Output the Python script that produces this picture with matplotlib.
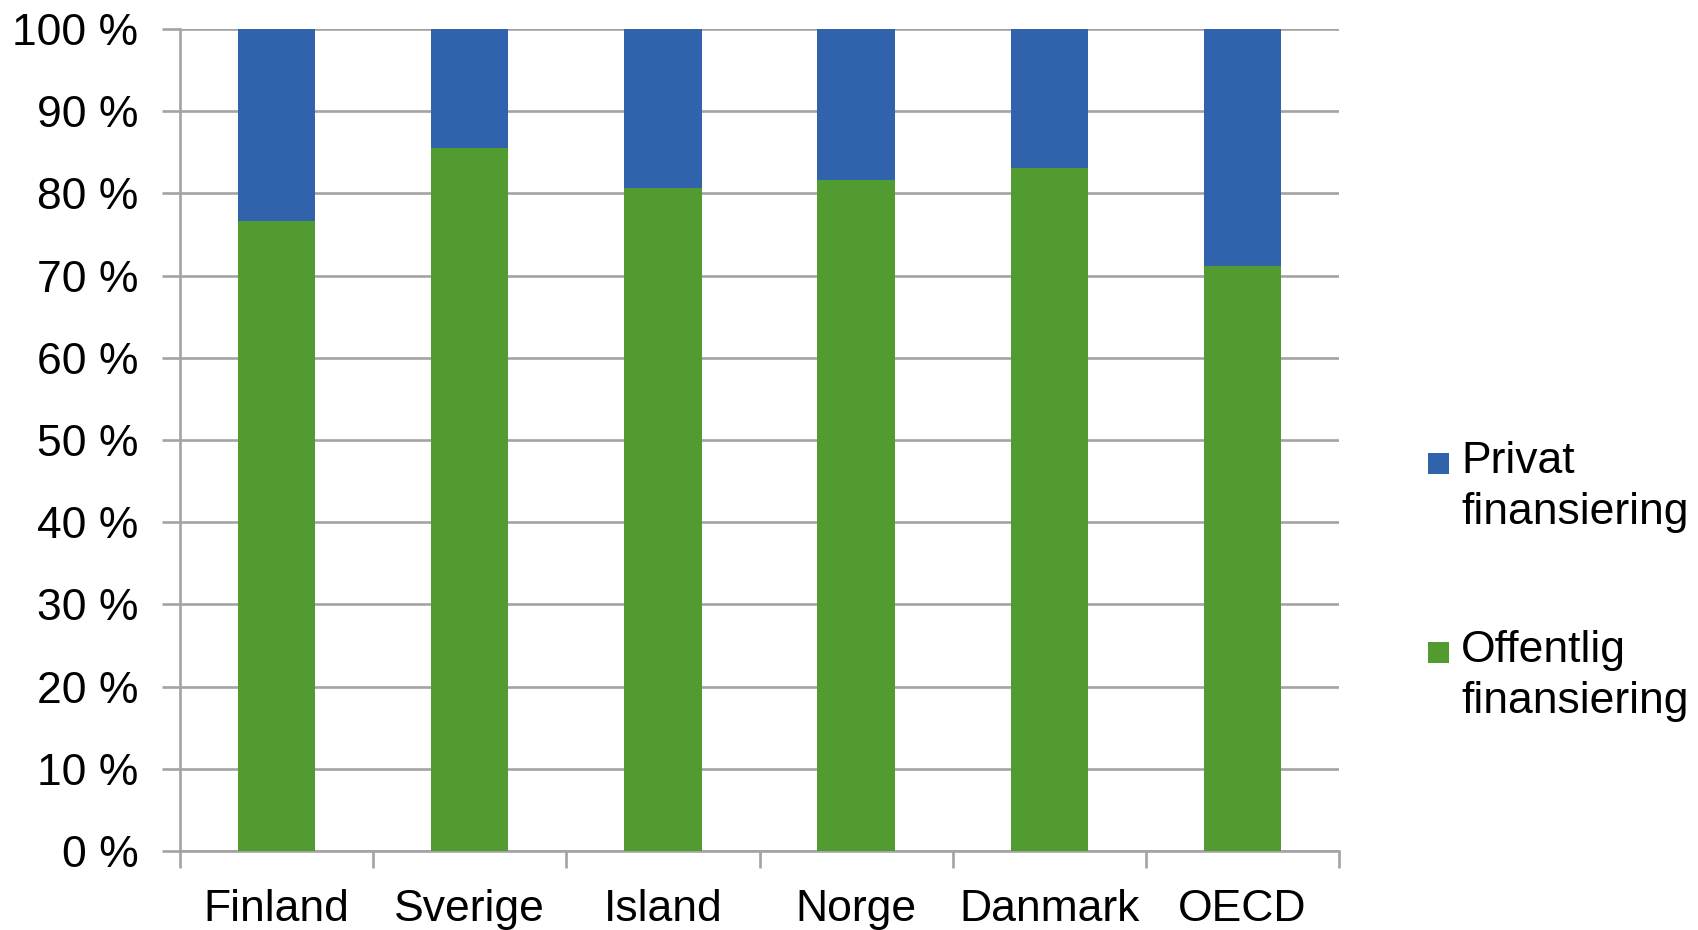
import matplotlib
matplotlib.use("Agg")
import matplotlib.pyplot as plt
from matplotlib.patches import Rectangle
import numpy as np

categories = ["Finland", "Sverige", "Island", "Norge", "Danmark", "OECD"]
offentlig = [76.7, 85.5, 80.6, 81.6, 83.1, 71.2]
privat = [100 - v for v in offentlig]
yticks = list(range(0, 101, 10))
ytick_labels = [f"{v} %" for v in yticks]
series_labels = ["Privat\nfinansiering", "Offentlig\nfinansiering"]

blue = "#3162AC"
green = "#529B30"
grid_c = "#A3A3A3"

plt.rcParams['font.family'] = ['Liberation Sans', 'DejaVu Sans']
fs = 32

fig = plt.figure(figsize=(16.98, 9.30), dpi=100)
ax = fig.add_axes([180/1698, 1 - 851/930, (1339 - 180)/1698, (851 - 29)/930])

x = np.arange(len(categories))
ax.bar(x, offentlig, width=0.40, color=green, zorder=3)
ax.bar(x, privat, width=0.40, bottom=offentlig, color=blue, zorder=3)

ax.set_xlim(-0.5, len(categories) - 0.5)
ax.set_ylim(0, 100)
ax.set_yticks(yticks)
ax.set_yticklabels(ytick_labels, fontsize=fs)
ax.yaxis.grid(True, color=grid_c, linewidth=1.9, zorder=0)

ax.set_xticks(x)
ax.set_xticklabels(categories, fontsize=fs)
ax.set_xticks(np.arange(-0.5, len(categories), 1), minor=True)
ax.tick_params(axis='x', which='major', length=0, pad=27)
ax.tick_params(axis='x', which='minor', length=12, width=1.9, color=grid_c)
ax.tick_params(axis='y', length=13, width=1.9, color=grid_c, pad=17)

for s in ['top', 'right']:
    ax.spines[s].set_visible(False)
for s in ['left', 'bottom']:
    ax.spines[s].set_color(grid_c)
    ax.spines[s].set_linewidth(1.9)

# legend (manual, squares aligned with the first line of each label)
leg_colors = [blue, green]
sq_tops = [453, 642]
for col, lab, top in zip(leg_colors, series_labels, sq_tops):
    fig.patches.append(Rectangle((1428/1698, 1 - (top + 21)/930), 21/1698, 21/930,
                                 transform=fig.transFigure, facecolor=col,
                                 edgecolor='none'))
    fig.text(1461/1698, 1 - (top - 12)/930, lab, fontsize=fs, va='top', ha='left',
             linespacing=1.3)

fig.savefig("out.png", dpi=100)
